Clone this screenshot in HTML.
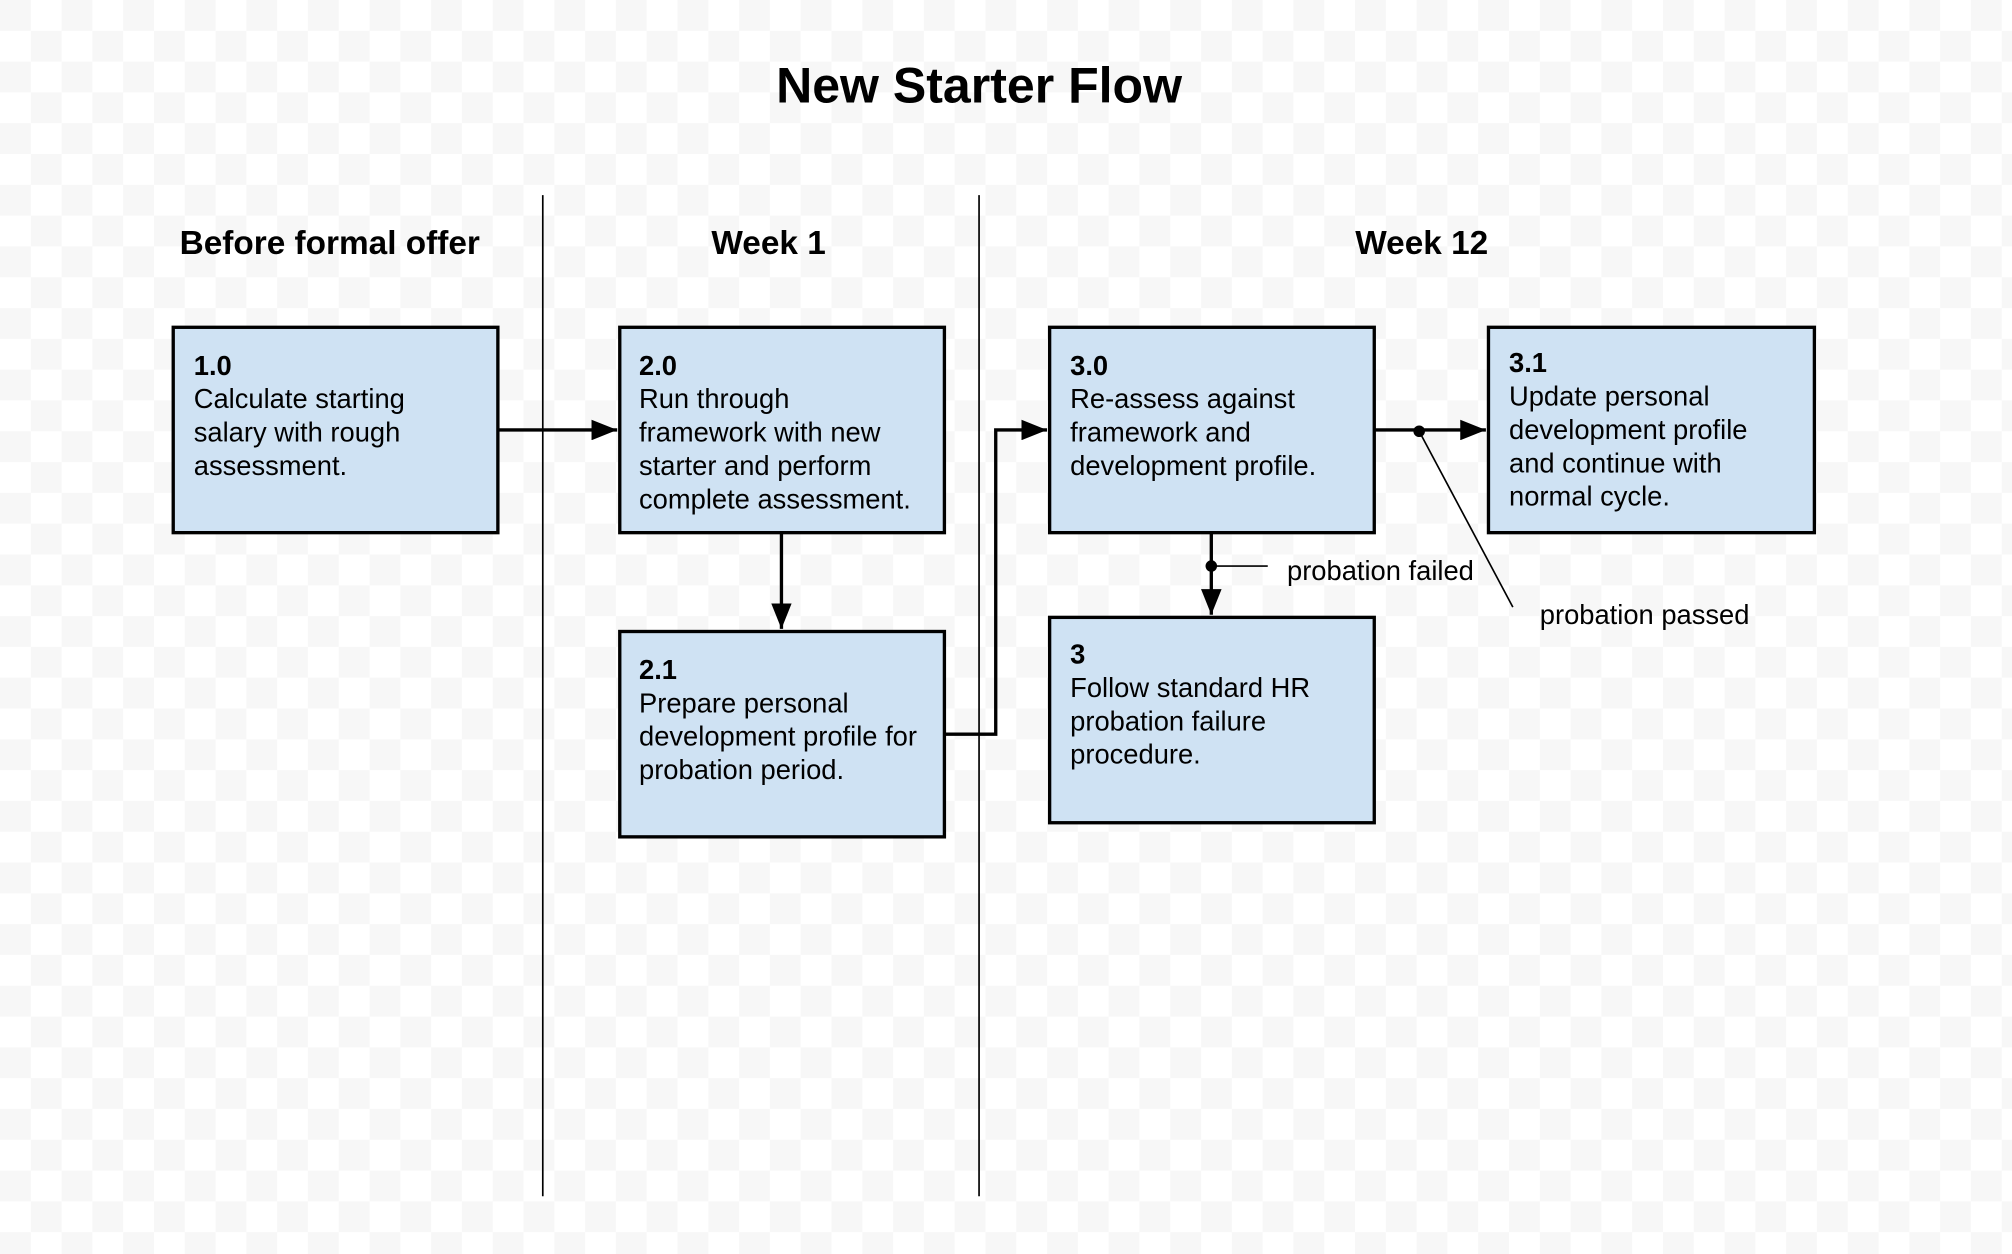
<!DOCTYPE html>
<html><head><meta charset="utf-8"><style>
html,body{margin:0;padding:0;background:#fff;}
svg{display:block;}
text{font-family:"Liberation Sans",Arial,sans-serif;fill:#000;}
</style></head><body>
<svg width="2012" height="1254" viewBox="0 0 1568 977" preserveAspectRatio="none" xmlns="http://www.w3.org/2000/svg">
<defs>
<pattern id="chk" width="48" height="48" patternUnits="userSpaceOnUse">
<rect width="48" height="48" fill="#ffffff"/>
<rect width="24" height="24" fill="#f7f7f7"/>
<rect x="24" y="24" width="24" height="24" fill="#f7f7f7"/>
</pattern>
<marker id="ah2" markerWidth="20" markerHeight="16" refX="20" refY="8" orient="auto" markerUnits="userSpaceOnUse">
<path d="M0,0 L20,8 L0,16 z" fill="#000"/>
</marker>
</defs>
<rect width="1568" height="977" fill="url(#chk)"/>

<text x="763" y="80" font-size="39" font-weight="bold" text-anchor="middle">New Starter Flow</text>
<text x="257" y="198" font-size="26" font-weight="bold" text-anchor="middle">Before formal offer</text>
<text x="599" y="198" font-size="26" font-weight="bold" text-anchor="middle">Week 1</text>
<text x="1108" y="198" font-size="26" font-weight="bold" text-anchor="middle">Week 12</text>

<line x1="423" y1="152" x2="423" y2="932" stroke="#000" stroke-width="1.3"/>
<line x1="763" y1="152" x2="763" y2="932" stroke="#000" stroke-width="1.3"/>

<g fill="#cfe2f3" stroke="#000" stroke-width="2.6">
<rect x="135" y="255" width="253" height="160"/>
<rect x="483" y="255" width="253" height="160"/>
<rect x="483" y="492" width="253" height="160"/>
<rect x="818" y="255" width="253" height="160"/>
<rect x="1160" y="255" width="254" height="160"/>
<rect x="818" y="481" width="253" height="160"/>
</g>

<g font-size="21.3">
<text x="151" y="292" font-weight="bold">1.0</text>
<text x="151" y="318">Calculate starting</text>
<text x="151" y="344">salary with rough</text>
<text x="151" y="370">assessment.</text>

<text x="498" y="292" font-weight="bold">2.0</text>
<text x="498" y="318">Run through</text>
<text x="498" y="344">framework with new</text>
<text x="498" y="370">starter and perform</text>
<text x="498" y="396">complete assessment.</text>

<text x="498" y="529" font-weight="bold">2.1</text>
<text x="498" y="555">Prepare personal</text>
<text x="498" y="581">development profile for</text>
<text x="498" y="607">probation period.</text>

<text x="834" y="292" font-weight="bold">3.0</text>
<text x="834" y="318">Re-assess against</text>
<text x="834" y="344">framework and</text>
<text x="834" y="370">development profile.</text>

<text x="1176" y="290" font-weight="bold">3.1</text>
<text x="1176" y="316">Update personal</text>
<text x="1176" y="342">development profile</text>
<text x="1176" y="368">and continue with</text>
<text x="1176" y="394">normal cycle.</text>

<text x="834" y="517" font-weight="bold">3</text>
<text x="834" y="543">Follow standard HR</text>
<text x="834" y="569">probation failure</text>
<text x="834" y="595">procedure.</text>
</g>

<g stroke="#000" stroke-width="2.6" fill="none">
<line x1="388" y1="335" x2="481" y2="335" marker-end="url(#ah2)"/>
<line x1="609" y1="415" x2="609" y2="490" marker-end="url(#ah2)"/>
<polyline points="736,572 776,572 776,335 816,335" marker-end="url(#ah2)"/>
<line x1="1071" y1="335" x2="1158" y2="335" marker-end="url(#ah2)"/>
<line x1="944" y1="415" x2="944" y2="479" marker-end="url(#ah2)"/>
</g>
<circle cx="1106" cy="336" r="4.5" fill="#000"/>
<circle cx="944" cy="441" r="4.5" fill="#000"/>
<line x1="1106" y1="336" x2="1179" y2="473" stroke="#000" stroke-width="1.3"/>
<line x1="944" y1="441" x2="988" y2="441" stroke="#000" stroke-width="1.3"/>
<text x="1003" y="452" font-size="21.3">probation failed</text>
<text x="1200" y="486" font-size="21.3">probation passed</text>
</svg>
</body></html>
